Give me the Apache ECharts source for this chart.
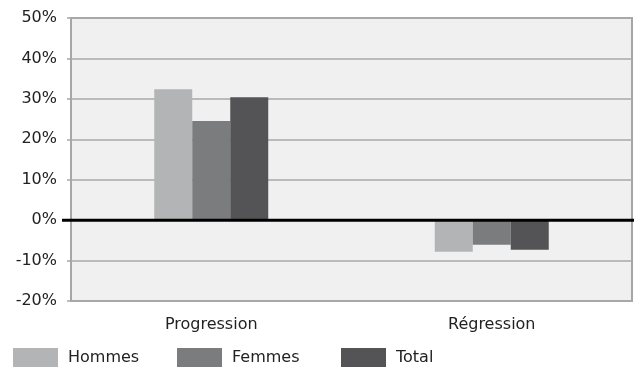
<!DOCTYPE html>
<html>
<head>
<meta charset="utf-8">
<script src="https://cdn.jsdelivr.net/npm/echarts@6/dist/echarts.min.js"></script>
<style>
  html, body { margin: 0; padding: 0; background: #ffffff; }
  #chart { width: 640px; height: 369px; }
</style>
</head>
<body>
<div id="chart"></div>
<script>
// Categories and series values (in %)
const categories = ['Progression', 'Régression'];
const seriesNames = ['Hommes', 'Femmes', 'Total'];
const hommes = [32.4, -7.8];
const femmes = [24.5, -6.1];
const total = [30.4, -7.3];
const yTicks = { min: -20, max: 50, step: 10 };

const colors = ['#b3b4b5', '#7b7c7e', '#545456'];
const FONT = 'DejaVu Sans';

const chart = echarts.init(document.getElementById('chart'), null, { renderer: 'canvas' });

function barSeries(name, data, color) {
  return {
    name: name,
    type: 'bar',
    data: data,
    barWidth: 38,
    barGap: '0%',
    itemStyle: { color: color },
    animation: false
  };
}

// One legend block per series, on a fixed pitch along the bottom
const legendLefts = [13, 177, 341];
const legends = seriesNames.map((name, i) => ({
  data: [name],
  left: legendLefts[i],
  top: 348,
  padding: 0,
  itemWidth: 45,
  itemHeight: 19,
  icon: 'rect',
  selectedMode: false,
  textStyle: { fontFamily: FONT, fontSize: 16, color: '#222222', padding: [0, 0, 0, 5] }
}));

chart.setOption({
  animation: false,
  backgroundColor: '#ffffff',
  textStyle: { fontFamily: FONT },
  grid: {
    left: 71, right: 8, top: 18, bottom: 68,
    show: true,
    backgroundColor: '#eff0ef',
    borderColor: '#a6a6a6',
    borderWidth: 2
  },
  legend: legends,
  xAxis: {
    type: 'category',
    data: categories,
    axisLine: { show: false, onZero: false },
    axisTick: { show: false },
    axisLabel: { fontFamily: FONT, fontSize: 16, color: '#222222', margin: 16 }
  },
  yAxis: {
    type: 'value',
    min: yTicks.min,
    max: yTicks.max,
    interval: yTicks.step,
    axisLine: { show: true, lineStyle: { color: '#a6a6a6', width: 2 } },
    axisTick: { show: true, length: 4, lineStyle: { color: '#a6a6a6', width: 1.5 } },
    splitLine: { show: true, lineStyle: { color: '#a9a9a9', width: 1.5 } },
    axisLabel: {
      fontFamily: FONT, fontSize: 16, color: '#222222', margin: 14,
      formatter: v => v + '%'
    }
  },
  series: [
    barSeries(seriesNames[0], hommes, colors[0]),
    barSeries(seriesNames[1], femmes, colors[1]),
    barSeries(seriesNames[2], total, colors[2])
  ]
});

// Thick zero baseline, slightly overhanging the plot frame
const y0 = chart.convertToPixel({ yAxisIndex: 0 }, 0);
const gridRect = chart.getModel().getComponent('grid').coordinateSystem.getRect();
chart.setOption({
  graphic: [{
    type: 'line',
    shape: { x1: gridRect.x - 9, y1: y0, x2: gridRect.x + gridRect.width + 2, y2: y0 },
    style: { stroke: '#000000', lineWidth: 3 },
    z: 100
  }]
});
</script>
</body>
</html>
